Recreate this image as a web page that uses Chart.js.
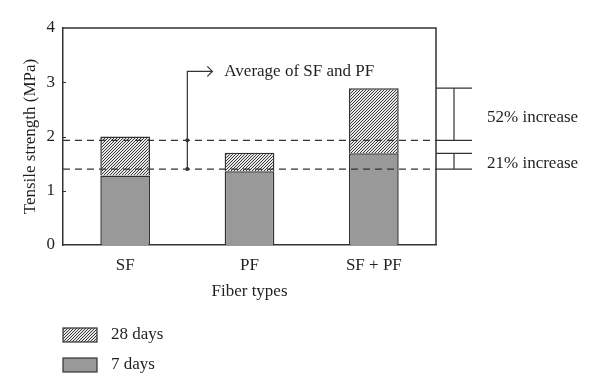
<!DOCTYPE html>
<html>
<head>
<meta charset="utf-8">
<script src="https://cdn.jsdelivr.net/npm/chart.js@4.4.1/dist/chart.umd.min.js"></script>
<style>
  html, body { margin: 0; padding: 0; background: #fff; }
  #wrap { width: 600px; height: 378px; }
</style>
</head>
<body>
<div id="wrap"><canvas id="chart" width="600" height="378"></canvas></div>
<script>
const fiberTypes = ['SF', 'PF', 'SF + PF'];
const days7 = [1.28, 1.36, 1.69];
const days28 = [2.0, 1.70, 2.89];
const yTicks = [0, 1, 2, 3, 4];
const avgLines = [1.40, 1.93];           // dashed reference lines
const increaseLabels = ['21% increase', '52% increase'];
const increaseRanges = [[1.40, 1.69], [1.93, 2.89]];

const FONT = "'Liberation Serif', 'DejaVu Serif', serif";
const FS = 17;
const ink = '#231f20';

function hatchPattern() {
    const c = document.createElement('canvas');
    c.width = 3; c.height = 3;
    const g = c.getContext('2d');
    g.fillStyle = '#e8e8e8';
    g.fillRect(0, 0, 3, 3);
    g.fillStyle = '#3a3a3a';
    g.fillRect(0, 2, 1, 1);
    g.fillRect(1, 1, 1, 1);
    g.fillRect(2, 0, 1, 1);
    return g.createPattern(c, 'repeat');
}

const ctx = document.getElementById('chart').getContext('2d');
const hatch = hatchPattern();

const extras = {
    id: 'extras',
    afterDatasetsDraw(chart) {
        const c = chart.ctx;
        const area = chart.chartArea;
        const y = chart.scales.y;
        const x = chart.scales.x;
        c.save();

        // top and right frame
        c.strokeStyle = '#333';
        c.lineWidth = 1.5;
        c.beginPath();
        c.moveTo(area.left, area.top);
        c.lineTo(area.right, area.top);
        c.lineTo(area.right, area.bottom);
        c.stroke();

        // inward ticks
        c.lineWidth = 1;
        yTicks.slice(1, -1).forEach(v => {
            const py = Math.round(y.getPixelForValue(v)) + 0.5;
            c.beginPath();
            c.moveTo(area.left, py);
            c.lineTo(area.left + 3, py);
            c.stroke();
        });

        // dashed average lines
        c.strokeStyle = '#333';
        c.lineWidth = 1.3;
        c.setLineDash([7, 5]);
        avgLines.forEach(v => {
            const py = y.getPixelForValue(v);
            c.beginPath();
            c.moveTo(area.left, py);
            c.lineTo(area.right, py);
            c.stroke();
        });
        c.setLineDash([]);

        // average marker between SF and PF
        const mx = (x.getPixelForValue(0) + x.getPixelForValue(1)) / 2;
        const topY = y.getPixelForValue(3.2);
        c.lineWidth = 1.2;
        c.beginPath();
        c.moveTo(mx, y.getPixelForValue(avgLines[0]));
        c.lineTo(mx, topY);
        c.lineTo(mx + 25, topY);
        c.stroke();
        c.beginPath();
        c.moveTo(mx + 20, topY - 5);
        c.lineTo(mx + 25, topY);
        c.lineTo(mx + 20, topY + 5);
        c.stroke();
        c.fillStyle = '#333';
        avgLines.forEach(v => {
            c.beginPath();
            c.arc(mx, y.getPixelForValue(v), 2, 0, Math.PI * 2);
            c.fill();
        });
        c.fillStyle = ink;
        c.font = FS + 'px ' + FONT;
        c.textBaseline = 'middle';
        c.textAlign = 'left';
        c.fillText('Average of SF and PF', mx + 37, topY);

        // increase brackets on the right
        c.strokeStyle = '#333';
        c.lineWidth = 1.2;
        const bx0 = area.right, bx1 = area.right + 36;
        increaseRanges.forEach((r, i) => {
            const y0 = y.getPixelForValue(r[0]);
            const y1 = y.getPixelForValue(r[1]);
            c.beginPath();
            c.moveTo(bx0, y0); c.lineTo(bx1, y0);
            c.moveTo(bx0, y1); c.lineTo(bx1, y1);
            c.moveTo(bx0 + 18, y0); c.lineTo(bx0 + 18, y1);
            c.stroke();
        });
        c.fillText(increaseLabels[1], area.right + 51, 118);
        c.fillText(increaseLabels[0], area.right + 51, 164);

        // legend
        const items = [
            { label: '28 days', fill: hatch },
            { label: '7 days', fill: '#999999' }
        ];
        items.forEach((it, i) => {
            const ly = 328 + i * 30;
            c.fillStyle = it.fill;
            c.fillRect(63, ly, 34, 14);
            c.strokeStyle = '#333';
            c.lineWidth = 1.2;
            c.strokeRect(63, ly, 34, 14);
            c.fillStyle = ink;
            c.fillText(it.label, 111, ly + 7);
        });

        c.restore();
    }
};

new Chart(ctx, {
    type: 'bar',
    data: {
        labels: fiberTypes,
        datasets: [
            {
                label: '7 days',
                data: days7,
                backgroundColor: '#999999',
                borderColor: '#333',
                borderWidth: 1.5,
                categoryPercentage: 0.4,
                barPercentage: 1,
                grouped: false
            },
            {
                label: '28 days',
                data: days7.map((v, i) => [v, days28[i]]),
                backgroundColor: hatch,
                borderColor: '#333',
                borderWidth: 1.5,
                categoryPercentage: 0.4,
                barPercentage: 1,
                grouped: false
            }
        ]
    },
    options: {
        responsive: false,
        animation: false,
        layout: { padding: { left: 0, right: 164, top: 28, bottom: 76 } },
        plugins: { legend: { display: false }, tooltip: { enabled: false } },
        scales: {
            x: {
                grid: { display: false, drawTicks: false },
                border: { color: '#333', width: 1.5 },
                ticks: { color: ink, padding: 10, font: { family: FONT, size: FS } },
                title: { display: true, text: 'Fiber types', color: ink, padding: 0, font: { family: FONT, size: FS } },
                afterFit(scale) { scale.height = 57; }
            },
            y: {
                min: 0, max: 4,
                grid: { display: false, drawTicks: false },
                border: { color: '#333', width: 1.5 },
                ticks: { stepSize: 1, color: ink, padding: 8, font: { family: FONT, size: FS } },
                title: { display: true, text: 'Tensile strength (MPa)', color: ink, padding: { top: 20, bottom: 0 }, font: { family: FONT, size: FS } },
                afterFit(scale) { scale.width = 63; }
            }
        }
    },
    plugins: [extras]
});
</script>
</body>
</html>
